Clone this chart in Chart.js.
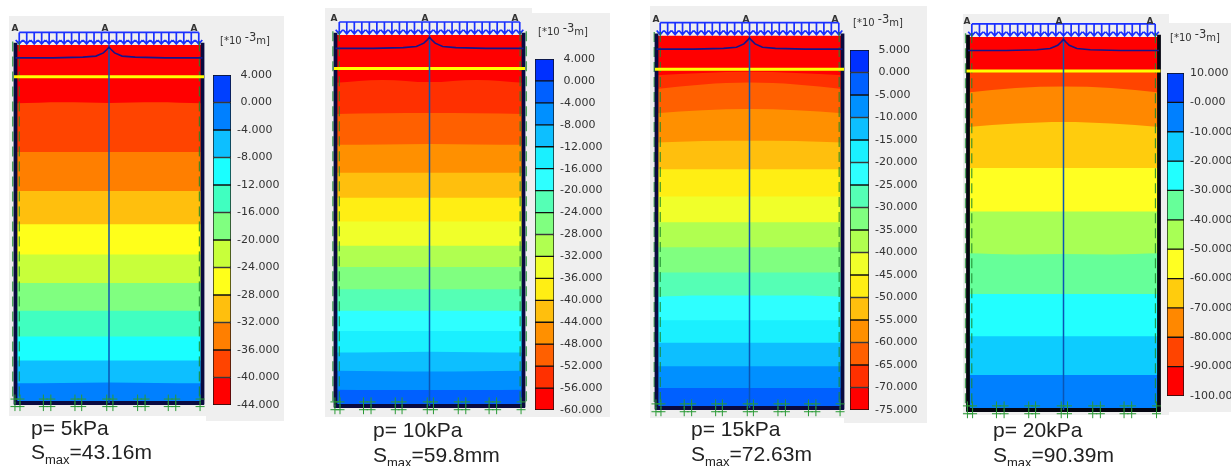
<!DOCTYPE html>
<html><head><meta charset="utf-8">
<style>
html,body{margin:0;padding:0;background:#fff;width:1231px;height:466px;overflow:hidden}
#stage{position:relative;width:1231px;height:466px;overflow:hidden}
.bg{position:absolute;background:#efefef}
.cv{position:absolute}
.t{position:absolute;white-space:nowrap}
.a{font:bold 9px "DejaVu Sans";color:#333;transform:translateX(-50%)}
.u{font:10px "DejaVu Sans";color:#333}
.u span{position:relative;top:-3px;font-size:11.5px}
.c{font:21px/24px "Liberation Sans";color:#222}
.c sub{font-size:13px;line-height:0;vertical-align:-5px}
</style></head><body><div id="stage"></div>
<script src="https://cdn.jsdelivr.net/npm/chart.js@4/dist/chart.umd.js"></script>
<script>
// ---- data: contour boundaries, as % of soil depth, across % of model width ----
const contourX = [0, 25, 50, 75, 100];
const contourDepths1 = [
 [16.3,16.0,16.2,16.0,16.3],[29.9,29.9,29.9,29.9,29.9],[40.8,40.8,40.8,40.8,40.8],[50.1,50.1,50.1,50.1,50.1],
 [58.5,58.5,58.5,58.5,58.5],[66.5,66.5,66.5,66.5,66.5],[74.2,74.2,74.2,74.2,74.2],[81.4,81.4,81.4,81.4,81.4],
 [88.1,88.1,88.1,88.1,88.1],[94.5,94.4,94.3,94.4,94.5]];
const contourDepths2 = [
 [12.9,12.1,12.7,12.1,12.9],[21.3,21.1,21.0,21.1,21.3],[29.6,29.5,29.4,29.5,29.6],[37.1,37.1,37.1,37.1,37.1],
 [43.9,43.9,43.9,43.9,43.9],[50.3,50.3,50.3,50.3,50.3],[56.8,56.8,56.8,56.8,56.8],[62.5,62.5,62.5,62.5,62.5],
 [68.5,68.5,68.5,68.5,68.5],[74.3,74.3,74.3,74.3,74.3],[79.8,79.8,79.8,79.8,79.8],[85.6,85.5,85.4,85.5,85.6],
 [90.5,90.6,90.7,90.6,90.5],[95.6,95.7,95.7,95.7,95.6]];
const contourDepths3 = [
 [10.6,10.0,9.7,10.0,10.6],[14.3,13.1,12.6,13.1,14.3],[20.8,20.0,19.7,20.0,20.8],[28.7,28.3,28.2,28.3,28.7],
 [35.9,35.9,35.9,35.9,35.9],[43.2,43.2,43.2,43.2,43.2],[50.1,50.1,50.1,50.1,50.1],[56.8,56.8,56.8,56.8,56.8],
 [63.6,63.6,63.6,63.6,63.6],[70.1,69.8,69.8,69.8,70.1],[76.4,76.4,76.4,76.4,76.4],[82.5,82.5,82.5,82.5,82.5],
 [88.8,88.8,88.8,88.8,88.8],[94.6,94.6,94.6,94.6,94.6]];
const contourDepths4 = [
 [9.4,9.4,9.4,9.4,9.4],[14.9,13.7,13.3,13.7,14.9],[24.1,23.2,22.8,23.2,24.1],[35.1,35.1,35.1,35.1,35.1],
 [46.8,46.8,46.8,46.8,46.8],[58.0,58.3,58.2,58.3,58.0],[68.9,68.9,68.9,68.9,68.9],[80.2,80.2,80.2,80.2,80.2],
 [90.6,90.6,90.6,90.6,90.6]];

// colour scale ticks, top to bottom
const colorTicks1 = [4,0,-4,-8,-12,-16,-20,-24,-28,-32,-36,-40,-44];
const tickLabels1 = [' 4.000',' 0.000','-4.000','-8.000','-12.000','-16.000','-20.000','-24.000','-28.000','-32.000','-36.000','-40.000','-44.000'];
const colorTicks2 = [4,0,-4,-8,-12,-16,-20,-24,-28,-32,-36,-40,-44,-48,-52,-56,-60];
const tickLabels2 = [' 4.000',' 0.000','-4.000','-8.000','-12.000','-16.000','-20.000','-24.000','-28.000','-32.000','-36.000','-40.000','-44.000','-48.000','-52.000','-56.000','-60.000'];
const colorTicks3 = [5,0,-5,-10,-15,-20,-25,-30,-35,-40,-45,-50,-55,-60,-65,-70,-75];
const tickLabels3 = [' 5.000',' 0.000','-5.000','-10.000','-15.000','-20.000','-25.000','-30.000','-35.000','-40.000','-45.000','-50.000','-55.000','-60.000','-65.000','-70.000','-75.000'];
const colorTicks4 = [10,0,-10,-20,-30,-40,-50,-60,-70,-80,-90,-100];
const tickLabels4 = ['10.000','-0.000','-10.000','-20.000','-30.000','-40.000','-50.000','-60.000','-70.000','-80.000','-90.000','-100.000'];

// colour of each scale cell, top to bottom
const cellColors1 = ['#0040ff','#0080ff','#0dbfff','#1affff','#40ffc0','#80ff80','#c8ff3a','#ffff1a','#ffbf0d','#ff7f00','#ff4400','#ff0000'];
const cellColors2 = ['#0030ff','#0060ff','#0090ff','#0dbfff','#1af0ff','#2effff','#55ffb5','#80ff80','#b0ff50','#f0ff2a','#ffee14','#ffbf0d','#ff9000','#ff6000','#ff3000','#ff0000'];
const cellColors3 = cellColors2;
const cellColors4 = ['#0040ff','#0080ff','#0dccff','#22ffff','#66ff99','#a8ff55','#ffff22','#ffcc0d','#ff8800','#ff4400','#ff0000'];

const pressureLabels = ['p= 5kPa','p= 10kPa','p= 15kPa','p= 20kPa'];
const settlementLabels = ['=43.16m','=59.8mm','=72.63m','=90.39m'];

// shared model geometry, in % of width / % of soil depth
const waterDepths = [8.9, 9.0, 9.0, 9.1];
const loadX = [2,6,10,14,18,22,26,30,34,38,42,46,50,54,58,62,66,70,74,78,82,86,90,94,98];
const settleX = [0,20,36,43,47,49,50,51,53,57,64,80,100];
const settleD = [3.6,3.6,3.4,3.1,2.2,1.2,0.6,1.2,2.2,3.1,3.4,3.6,3.6];
const fixUpperX = [-0.3,2.4,14.9,18.9,31.8,35.4,48.8,52.1,65.3,69.3,81.7,85.7,98.7];
const fixLowerX = [2.4,-0.3,14.9,18.9,31.8,35.4,48.8,52.1,65.3,69.3,81.7,85.7,98.7];

// ---- page layout (pixels) ----
const panels = [
 {box:[15.5,202.5,45,403], bg:[[9,16,197,400],[206,16,78,405]], bar:[213,231,74.5,404], unit:[220,33], cap:[31,416,440],
  a:[15,105,194], aY:23, green:[-1.5,2,98.3], wall:'#0a0a40', depths:contourDepths1, ticks:colorTicks1, labels:tickLabels1, cells:cellColors1},
 {box:[335.5,523.5,35,406], bg:[[325,8,207,409],[532,13,78,404]], bar:[535,554,58.5,409], unit:[538,24], cap:[373,418,443],
  a:[334,425,515], aY:13, green:[-1.4,2,98.2,101.5], wall:'#0a0a40', depths:contourDepths2, ticks:colorTicks2, labels:tickLabels2, cells:cellColors2},
 {box:[656.5,842.5,35.7,408], bg:[[650,6,194,412],[844,6,83,417]], bar:[850,869,49.5,409], unit:[853,15], cap:[691,417,442],
  a:[656,746,835], aY:14, green:[-1.2,2,98.2], wall:'#0a0a40', depths:contourDepths3, ticks:colorTicks3, labels:tickLabels3, cells:cellColors3},
 {box:[968,1159,37,410], bg:[[963,14,206,401],[1169,23,62,389]], bar:[1167,1184,72.5,395], unit:[1170,30], cap:[993,418,443],
  a:[967,1059,1150], aY:16, green:[-1.3,2,98.1], wall:'#050510', depths:contourDepths4, ticks:colorTicks4, labels:tickLabels4, cells:cellColors4}
];

const stage = document.getElementById('stage');
function el(cls, x, y, html){ const d=document.createElement('div'); d.className=cls; d.style.left=x+'px'; d.style.top=y+'px'; d.innerHTML=html||''; stage.appendChild(d); return d; }
function canvasAt(x,y,w,h){ const c=document.createElement('canvas'); c.className='cv'; c.width=w; c.height=h; c.style.left=x+'px'; c.style.top=y+'px'; stage.appendChild(c); return c; }
const lineDs = (data, color, width, extra) => Object.assign({type:'line',data,borderColor:color,borderWidth:width,pointRadius:0,fill:false,tension:0,clip:false}, extra||{});

panels.forEach((p,i)=>{
  p.bg.forEach(b=>{ const d=el('bg',b[0],b[1]); d.style.width=b[2]+'px'; d.style.height=b[3]+'px'; });

  // ---- model chart
  const [l,r,t,b] = p.box, W=r-l, H=b-t;
  const x0=Math.floor(l-12), x1=Math.ceil(r+12), y0=Math.floor(t-22), y1=Math.ceil(b+14);
  const xMin=(x0-l)/W*100, xMax=(x1-l)/W*100, yMin=(y0-t)/H*100, yMax=(y1-t)/H*100;
  const ds=[];
  ds.push({type:'line',showLine:false,data:fixUpperX.map(x=>({x,y:98.9})),pointStyle:'cross',pointRadius:4.5,borderColor:'#2a9a35',borderWidth:1,clip:false});
  ds.push({type:'line',showLine:false,data:fixLowerX.map(x=>({x,y:101})),pointStyle:'cross',pointRadius:4.5,borderColor:'#2a9a35',borderWidth:1,clip:false});
  ds.push(lineDs(settleX.map((x,k)=>({x,y:settleD[k]})),'#14148c',1.6));
  ds.push(lineDs([{x:50,y:0},{x:50,y:100}],'#0a55b5',1.5));
  ds.push(lineDs([{x:-0.8,y:waterDepths[i]},{x:100.8,y:waterDepths[i]}],'#ffff00',3));
  ds.push(lineDs([{x:0,y:-0.6},{x:0,y:100.4}],p.wall,3.8));
  ds.push(lineDs([{x:100,y:-0.6},{x:100,y:100.4}],p.wall,3.8));
  ds.push(lineDs([{x:-0.8,y:100},{x:100.8,y:100}],p.wall,3.8));
  p.green.forEach(gx=>{
    const outer = gx<0||gx>100;
    ds.push(lineDs([{x:gx,y:-1},{x:gx,y:99}],outer?'#4aa55a':'#1c8a2c',outer?1.4:1,{borderDash:[10,5]}));
  });
  const load=[{x:loadX[0],y:-3.5},{x:loadX[loadX.length-1],y:-3.5},{x:loadX[loadX.length-1],y:null}];
  loadX.forEach(x=>{
    load.push({x,y:-3.5},{x,y:-0.3},{x,y:null});
    load.push({x:x-1.9,y:-1.4},{x,y:-0.3},{x:x+1.9,y:-1.4},{x,y:null});
  });
  ds.push(lineDs(load,'#1a30ff',1.7));
  // soil bands, from deepest up; the last in the list is painted first
  const bandCols = p.cells.slice().reverse();           // red first, going down
  for(let k=p.depths.length;k>=0;k--){
    const d = k===0 ? contourX.map(()=>0) : p.depths[k-1];
    ds.push(lineDs(contourX.map((x,j)=>({x,y:d[j]})),bandCols[k],0,{fill:{value:100},backgroundColor:bandCols[k],cubicInterpolationMode:'monotone',clip:true}));
  }
  new Chart(canvasAt(x0,y0,x1-x0,y1-y0),{
    type:'line',
    data:{datasets:ds},
    options:{responsive:false,animation:false,events:[],layout:{padding:0,autoPadding:false},
      plugins:{legend:{display:false},tooltip:{enabled:false}},
      scales:{x:{type:'linear',min:xMin,max:xMax,display:false},
              y:{type:'linear',reverse:true,min:yMin,max:yMax,display:false}}}
  });

  // ---- colour scale chart
  const [bl,br,bt,bb]=p.bar, pad=10, barW=br-bl;
  const cW=Math.min(1231-bl,barW+60);
  const cellDs=p.cells.map((c,k)=>({data:[[p.ticks[k+1],p.ticks[k]]],backgroundColor:c,borderColor:'#111',borderWidth:1,borderSkipped:false,barPercentage:1,categoryPercentage:1}));
  new Chart(canvasAt(bl,Math.round(bt)-pad,cW,Math.round(bb-bt)+2*pad),{
    type:'bar',
    data:{labels:[''],datasets:cellDs},
    options:{responsive:false,animation:false,events:[],layout:{padding:{top:pad,bottom:pad,left:0,right:0},autoPadding:false},
      plugins:{legend:{display:false},tooltip:{enabled:false}},
      datasets:{bar:{grouped:false}},
      scales:{
        x:{display:false},
        y:{position:'right',min:p.ticks[p.ticks.length-1],max:p.ticks[0],
           grid:{display:false,drawTicks:false},border:{display:false},
           afterFit(a){a.width=cW-barW;a.paddingTop=0;a.paddingBottom=0;},
           ticks:{stepSize:p.ticks[0]-p.ticks[1],autoSkip:false,maxRotation:0,padding:6,color:'#333',
                  font:{family:'DejaVu Sans',size:11},
                  callback:v=>p.labels[p.ticks.indexOf(v)]}}
      }}
  });

  // ---- texts
  p.a.forEach(x=>el('t a',x,p.aY,'A'));
  el('t u',p.unit[0],p.unit[1],'[*10 <span>-3</span>m]');
  el('t c',p.cap[0],p.cap[1],pressureLabels[i]);
  el('t c',p.cap[0],p.cap[2],'S<sub>max</sub>'+settlementLabels[i]);
});
</script></body></html>
